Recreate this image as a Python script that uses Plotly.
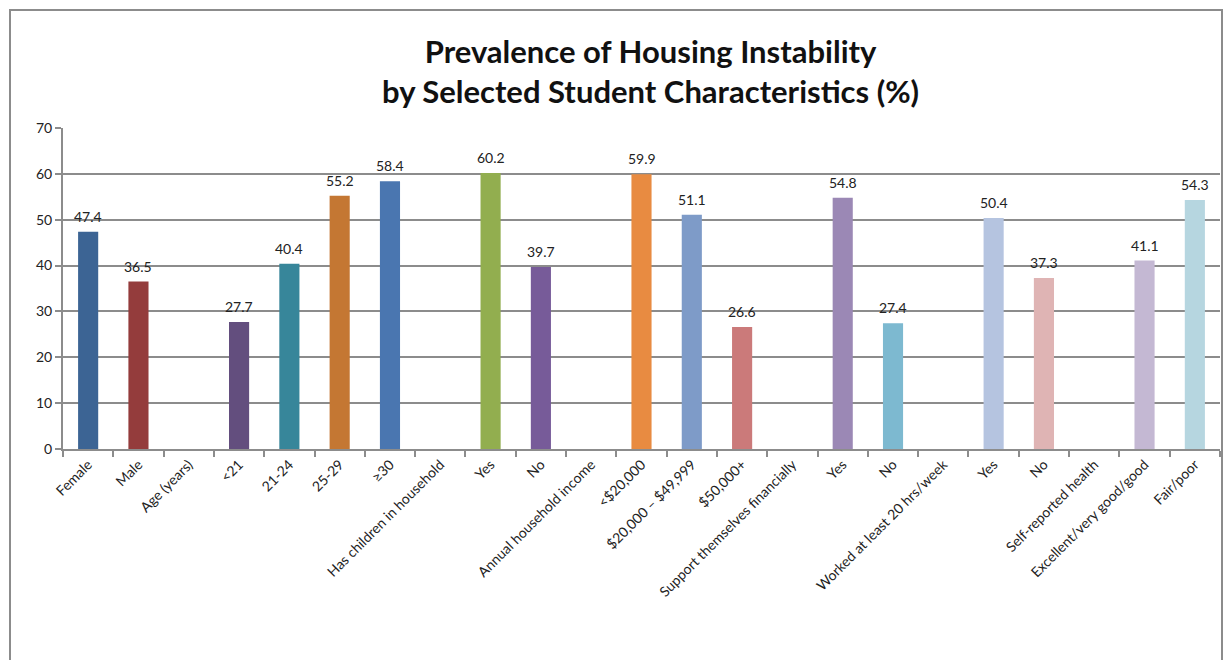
import plotly.graph_objects as go

categories = ["Female", "Male", "Age (years)", "<21", "21-24", "25-29", "≥30",
              "Has children in household", "Yes", "No", "Annual household income",
              "<$20,000", "$20,000 – $49,999", "$50,000+", "Support themselves financially",
              "Yes", "No", "Worked at least 20 hrs/week", "Yes", "No",
              "Self-reported health", "Excellent/very good/good", "Fair/poor"]
values = [47.4, 36.5, None, 27.7, 40.4, 55.2, 58.4, None, 60.2, 39.7, None,
          59.9, 51.1, 26.6, None, 54.8, 27.4, None, 50.4, 37.3, None, 41.1, 54.3]
colors = ["#3C6494", "#943C3C", "#FFFFFF", "#634E7E", "#37869A", "#C47733", "#4A76B0",
          "#FFFFFF", "#92AE4F", "#775B99", "#FFFFFF", "#E88B41", "#7E9BC8", "#CB7A7A",
          "#FFFFFF", "#9B88B5", "#7DB9D0", "#FFFFFF", "#B5C4E0", "#DFB4B4", "#FFFFFF",
          "#C4B8D3", "#B6D6E0"]
y_ticks = [0, 10, 20, 30, 40, 50, 60, 70]

xs = list(range(len(categories)))

FONT = "Lato, Calibri, Open Sans, sans-serif"

fig = go.Figure(go.Bar(
    x=xs, y=values, marker=dict(color=colors, line=dict(width=0)),
    width=0.4,
))

value_labels = [dict(x=x, y=v, text=f"{v:.1f}", xref="x", yref="y",
                     showarrow=False, yanchor="bottom", yshift=5,
                     font=dict(family=FONT, size=14, color="#222222"))
                for x, v in zip(xs, values) if v is not None]

fig.update_layout(
    width=1226, height=660,
    margin=dict(l=63, r=6, t=128, b=211),
    paper_bgcolor="white", plot_bgcolor="white",
    showlegend=False,
    font=dict(family=FONT, size=14, color="#222222"),
    xaxis=dict(
        range=[-0.5, len(categories) - 0.5],
        tickmode="array", tickvals=xs, ticktext=categories,
        tickangle=-45, ticks="", showgrid=False,
        showline=True, linecolor="#8C8C8C", linewidth=2,
        tickfont=dict(family=FONT, size=14, color="#222222"),
        minor=dict(tick0=-0.5, dtick=1, ticks="outside", ticklen=6,
                   tickcolor="#8C8C8C", tickwidth=1.5, showgrid=False),
    ),
    yaxis=dict(
        range=[0, 70], tickmode="array", tickvals=y_ticks,
        showgrid=True, gridcolor="#8C8C8C", gridwidth=2,
        showline=True, linecolor="#8C8C8C", linewidth=2,
        ticks="outside", ticklen=6, tickcolor="#8C8C8C", tickwidth=1.5,
        zeroline=False,
        tickfont=dict(family=FONT, size=14, color="#222222"),
    ),
    annotations=value_labels + [dict(
        text="<b>Prevalence of Housing Instability<br>by Selected Student Characteristics (%)</b>",
        xref="paper", yref="paper", x=(650 - 63) / 1157, y=(449 - 71) / 321,
        xanchor="center", yanchor="middle", showarrow=False,
        font=dict(family=FONT, size=31, color="#111111"),
    )],
    shapes=[dict(type="rect", xref="paper", yref="paper",
                 x0=(10 - 63) / 1157, x1=(1222 - 63) / 1157,
                 y0=(449 - 700) / 321, y1=(449 - 10) / 321,
                 line=dict(color="#8C8C8C", width=2), fillcolor="rgba(0,0,0,0)",
                 layer="below")],
)

fig.write_html("out.html")
